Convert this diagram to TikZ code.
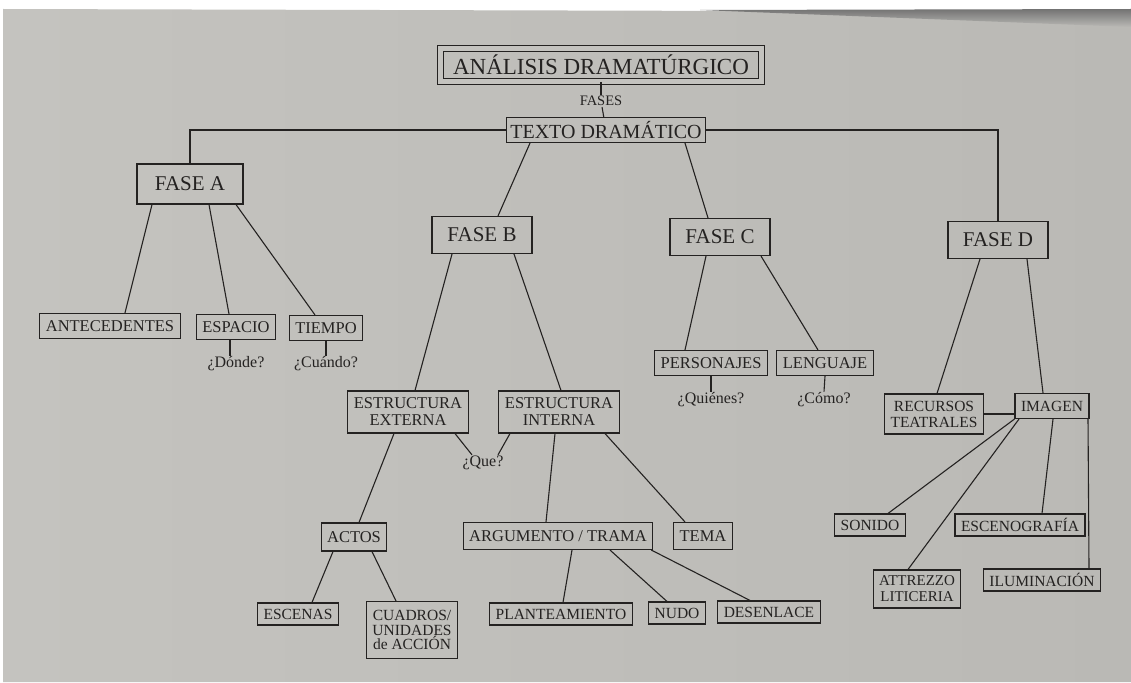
\documentclass[tikz,border=0pt]{standalone}
\usepackage{fontspec}
\setmainfont{Liberation Serif}

\definecolor{pageL}{RGB}{196,195,191}
\definecolor{pageR}{RGB}{186,185,181}
\definecolor{ink}{RGB}{36,34,33}

\tikzset{
  box/.style={draw=ink, text=ink, line width=1.1pt, inner xsep=6pt, inner ysep=2pt,
    minimum height=25pt, align=center, font=\fontsize{16.5}{17}\selectfont},
  lowbox/.style={box, minimum height=22pt, font=\fontsize{15.5}{16}\selectfont},
  fasebox/.style={box, minimum width=100pt, minimum height=37pt, font=\fontsize{21}{22}\selectfont},
  titlebox/.style={draw=ink, text=ink, line width=1pt, double=pageL, double distance=5pt,
    minimum width=321pt, minimum height=33pt, font=\fontsize{23}{24}\selectfont},
  ask/.style={text=ink, inner sep=1pt, font=\fontsize{16}{17}\selectfont},
  link/.style={draw=ink, line width=1.1pt},
}

\begin{document}
\begin{tikzpicture}[x=1pt, y=-1pt]

    % page
    \useasboundingbox (0,0) rectangle (1131,682);
    \fill[white] (0,0) rectangle (1131,682);
    \shade[left color=pageL, right color=pageR] (3,9) -- (1131,12) -- (1131,682) -- (3,682) -- cycle;
    \shade[top color=black!55, bottom color=pageR] (700,10) -- (1131,9) -- (1131,27) -- cycle;

    % Top
    \node[titlebox] (AD) at (601,65) {ANÁLISIS DRAMATÚRGICO};
    \node[ask, font=\fontsize{14.5}{15}\selectfont] (fases) at (601,101) {FASES};
    \node[box, font=\fontsize{20}{21}\selectfont, inner xsep=4pt] (TD) at (606,130) {TEXTO DRAMÁTICO};

    % Phases
    \node[fasebox, minimum width=106pt, minimum height=40pt] (FA) at (190,184) {FASE A};
    \node[fasebox] (FB) at (482,235) {FASE B};
    \node[fasebox] (FC) at (720,237) {FASE C};
    \node[fasebox] (FD) at (998,240) {FASE D};

    % Fase A
    \node[box] (ANT) at (110,326) {ANTECEDENTES};
    \node[box] (ESP) at (236,327) {ESPACIO};
    \node[box] (TIE) at (326,328) {TIEMPO};
    \node[ask] (donde) at (236,364) {¿Dónde?};
    \node[ask] (cuando) at (326,364) {¿Cuándo?};

    % Fase B
    \node[box, minimum height=42pt] (EXT) at (408,412) {ESTRUCTURA\\EXTERNA};
    \node[box, minimum height=42pt] (INT) at (559,412) {ESTRUCTURA\\INTERNA};
    \node[ask] (que) at (483,463) {¿Que?};
    \node[box, minimum height=28pt] (ACT) at (354,537) {ACTOS};
    \node[lowbox] (ESC) at (298,614) {ESCENAS};
    \node[lowbox, font=\fontsize{15.5}{14.5}\selectfont, minimum height=57pt] (CUA) at (412,630) {CUADROS/\\UNIDADES\\de ACCIÓN};
    \node[box, minimum height=27pt] (ARG) at (558,536) {ARGUMENTO / TRAMA};
    \node[box, minimum height=27pt] (TEM) at (703,536) {TEMA};
    \node[lowbox] (PLA) at (561,614) {PLANTEAMIENTO};
    \node[lowbox] (NUD) at (677,613) {NUDO};
    \node[lowbox] (DES) at (769,612) {DESENLACE};

    % Fase C
    \node[box] (PER) at (711,363) {PERSONAJES};
    \node[box] (LEN) at (825,363) {LENGUAJE};
    \node[ask] (quienes) at (711,400) {¿Quiénes?};
    \node[ask] (como) at (824,400) {¿Cómo?};

    % Fase D
    \node[box, font=\fontsize{15.5}{16}\selectfont, minimum height=40pt] (REC) at (934,414) {RECURSOS\\TEATRALES};
    \node[box, font=\fontsize{15.5}{16}\selectfont] (IMG) at (1052,406) {IMAGEN};
    \node[lowbox] (SON) at (870,525) {SONIDO};
    \node[lowbox] (ESG) at (1020,525) {ESCENOGRAFÍA};
    \node[lowbox, font=\fontsize{15}{16}\selectfont, minimum height=38pt] (ATT) at (917,589) {ATTREZZO\\LITICERIA};
    \node[lowbox] (ILU) at (1042,580) {ILUMINACIÓN};

    % Declare edges
    \draw[link] (AD) -- (fases);
    \draw[link] (fases) -- (TD);
    \draw[link] (TD.west) -| (FA.north);
    \draw[link] (TD.east) -| (FD.north);
    \draw[link] ([xshift=-76pt]TD.south) -- ([xshift=16pt]FB.north);
    \draw[link] ([xshift=79pt]TD.south) -- ([xshift=-12pt]FC.north);

    \draw[link] ([xshift=-38pt]FA.south) -- ([xshift=15pt]ANT.north);
    \draw[link] ([xshift=19pt]FA.south) -- ([xshift=-7pt]ESP.north);
    \draw[link] ([xshift=46pt]FA.south) -- ([xshift=-11pt]TIE.north);
    \draw[link] ([xshift=-6pt]ESP.south) -- ([xshift=-6pt]donde.north);
    \draw[link] (TIE.south) -- (cuando.north);

    \draw[link] ([xshift=-30pt]FB.south) -- ([xshift=7pt]EXT.north);
    \draw[link] ([xshift=32pt]FB.south) -- ([xshift=2pt]INT.north);
    \draw[link] ([xshift=47pt]EXT.south) -- ([xshift=-11pt]que.north);
    \draw[link] ([xshift=-49pt]INT.south) -- ([xshift=15pt]que.north);
    \draw[link] ([xshift=-14pt]EXT.south) -- ([xshift=5pt]ACT.north);
    \draw[link] ([xshift=-4pt]INT.south) -- ([xshift=-12pt]ARG.north);
    \draw[link] ([xshift=46pt]INT.south) -- ([xshift=-18pt]TEM.north);
    \draw[link] ([xshift=-21pt]ACT.south) -- ([xshift=14pt]ESC.north);
    \draw[link] ([xshift=18pt]ACT.south) -- ([xshift=-16pt]CUA.north);
    \draw[link] ([xshift=14pt]ARG.south) -- ([xshift=2pt]PLA.north);
    \draw[link] ([xshift=52pt]ARG.south) -- ([xshift=-10pt]NUD.north);
    \draw[link] ([xshift=-2pt]ARG.south east) -- ([xshift=-19pt]DES.north);

    \draw[link] ([xshift=-14pt]FC.south) -- ([xshift=-26pt]PER.north);
    \draw[link] ([xshift=41pt]FC.south) -- ([xshift=-7pt]LEN.north);
    \draw[link] (PER.south) -- (quienes.north);
    \draw[link] (LEN.south) -- (como.north);

    \draw[link] ([xshift=-18pt]FD.south) -- ([xshift=3pt]REC.north);
    \draw[link] ([xshift=29pt]FD.south) -- ([xshift=-9pt]IMG.north);
    \draw[link] (REC.east) -- (REC.east -| IMG.west);
    \draw[link] (IMG.south west) -- ([xshift=18pt]SON.north);
    \draw[link] ([xshift=-33pt]IMG.south) -- ([xshift=-9pt]ATT.north);
    \draw[link] ([xshift=1pt]IMG.south) -- ([xshift=22pt]ESG.north);
    \draw[link] ([xshift=36pt]IMG.south) -- ([xshift=47pt]ILU.north);

\end{tikzpicture}
\end{document}
